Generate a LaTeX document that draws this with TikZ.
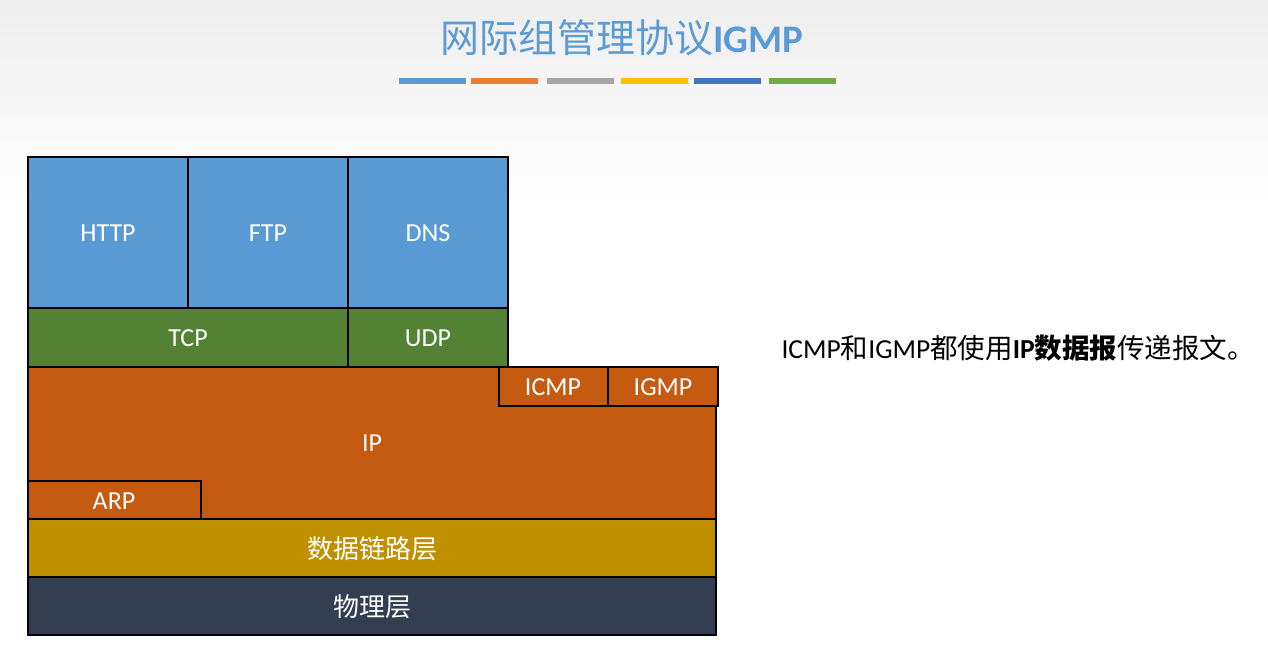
\documentclass[tikz,border=0pt]{standalone}
\usepackage{fontspec}
\setmainfont{Carlito}
\newfontfamily\cjk{Noto Sans CJK SC}
\usetikzlibrary{positioning}
\definecolor{appblue}{HTML}{5B9BD5}
\definecolor{tpgreen}{HTML}{548235}
\definecolor{iporange}{HTML}{C55A11}
\definecolor{linkgold}{HTML}{BF9000}
\definecolor{phydark}{HTML}{333F50}
\definecolor{barorange}{HTML}{ED7D31}
\definecolor{bargray}{HTML}{A5A5A5}
\definecolor{bargold}{HTML}{FFC000}
\definecolor{barblue}{HTML}{4472C4}
\definecolor{bargreen}{HTML}{70AD47}
\tikzset{
  layer/.style={draw=black, line width=1.5pt, text=white, font=\fontsize{26}{30}\selectfont},
  bar/.style={line width=6pt}
}
\begin{document}
\begin{tikzpicture}[x=1pt,y=-1pt]
    \useasboundingbox (0,0) rectangle (1268,660);
    \shade[top color=black!7, bottom color=white] (0,0) rectangle (1268,200);
    \fill[white] (0,200) rectangle (1268,660);
    % title
    \node[text=appblue, font=\fontsize{39}{44}\selectfont] (title) at (622,38) {{\cjk 网际组管理协议}\textbf{IGMP}};
    \foreach \xa/\col in {399/appblue,471/barorange,547/bargray,621/bargold,694/barblue,769/bargreen}
        \draw[bar, \col] (\xa,81) -- ++(67,0);
    % stack
    \draw[layer, fill=iporange] (28,367) rectangle (716,519) node (ip) at (372,443) {IP};
    \draw[layer, fill=iporange] (499,367) rectangle (608,406) node (icmp) at (553,387) {ICMP};
    \draw[layer, fill=iporange] (608,367) rectangle (718,406) node (igmp) at (663,387) {IGMP};
    \draw[layer, fill=iporange] (28,481) rectangle (201,519) node (arp) at (114,501) {ARP};
    \draw[layer, fill=appblue] (28,157) rectangle (188,308) node (http) at (108,233) {HTTP};
    \draw[layer, fill=appblue] (188,157) rectangle (348,308) node (ftp) at (268,233) {FTP};
    \draw[layer, fill=appblue] (348,157) rectangle (508,308) node (dns) at (428,233) {DNS};
    \draw[layer, fill=tpgreen] (28,308) rectangle (348,367) node (tcp) at (188,338) {TCP};
    \draw[layer, fill=tpgreen] (348,308) rectangle (508,367) node (udp) at (428,338) {UDP};
    \draw[layer, fill=linkgold] (28,519) rectangle (716,577) node (link) at (372,549) {\cjk 数据链路层};
    \draw[layer, fill=phydark] (28,577) rectangle (716,635) node (phy) at (372,607) {\cjk 物理层};
    % note
    \node[anchor=west, font=\fontsize{27.5}{32}\selectfont] (note) at (778,348)
        {ICMP{\cjk 和}IGMP{\cjk 都使用}\textbf{IP{\cjk 数据报}}{\cjk 传递报文。}};
\end{tikzpicture}
\end{document}
